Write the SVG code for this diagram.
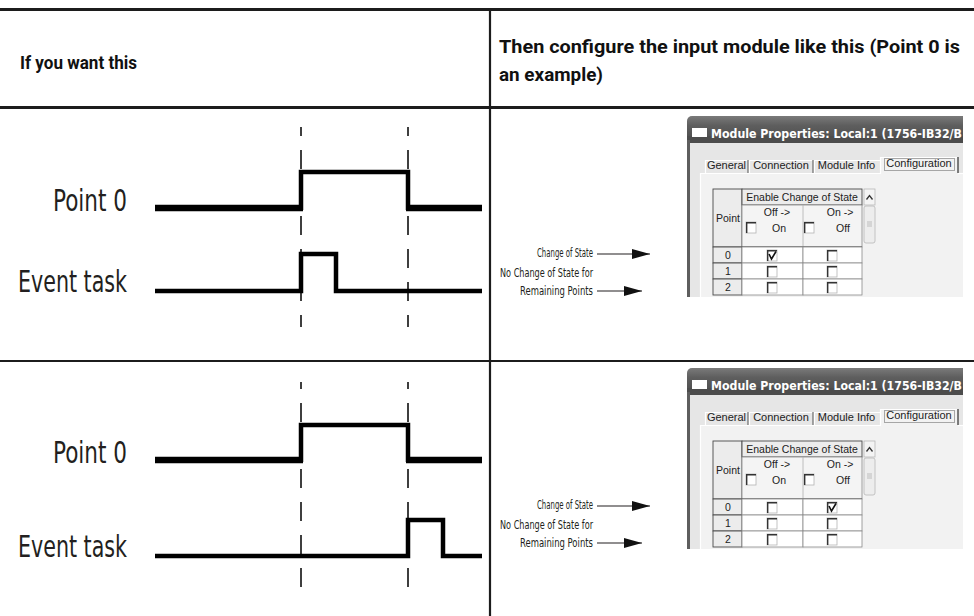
<svg xmlns="http://www.w3.org/2000/svg" width="974" height="616" viewBox="0 0 974 616">
  <style>
    .rule { stroke: #1c1c1c; fill: none; }
    .hdr { font-family: Roboto, "Liberation Sans", sans-serif; font-weight: 700; font-size: 19px; fill: #111; }
    .sig { font-family: "Liberation Sans Narrow", "DejaVu Sans Condensed", "Liberation Sans", sans-serif; font-size: 30px; fill: #231f20; }
    .wave { stroke: #000; fill: none; stroke-linejoin: miter; stroke-linecap: butt; }
    .dash { stroke: #000; stroke-width: 1.5; stroke-dasharray: 19 14; fill: none; }
    .note { font-family: "Liberation Sans Narrow", "DejaVu Sans Condensed", "Liberation Sans", sans-serif; font-size: 12px; fill: #231f20; }
    .ptr { stroke: #231f20; stroke-width: 1.2; fill: none; marker-end: url(#tip); }
    .ui { font-family: "Liberation Sans", Arial, sans-serif; font-size: 11px; fill: #222; }
    .uis { font-family: "Liberation Sans", Arial, sans-serif; font-size: 10.5px; fill: #222; }
    .cell { fill: #fff; stroke: #8a8a8a; stroke-width: 0.8; }
    .btn { fill: #ececec; stroke: #4a4a4a; stroke-width: 0.9; }
    .cb { fill: #fff; stroke: #b5b5b5; stroke-width: 0.8; }
    .cbe { stroke: #333; stroke-width: 1.4; fill: none; }
  </style>
  <defs>
    <marker id="tip" markerUnits="userSpaceOnUse" markerWidth="18" markerHeight="10" refX="18" refY="5" orient="auto">
      <path d="M0,0 L18,5 L0,10 Z" fill="#111"/>
    </marker>
    <linearGradient id="titleGrad" x1="0" y1="0" x2="0" y2="1">
      <stop offset="0" stop-color="#7a7a7a"/>
      <stop offset="0.35" stop-color="#5e5e5e"/>
      <stop offset="1" stop-color="#4a4a4a"/>
    </linearGradient>
    <clipPath id="winClip" clipPathUnits="userSpaceOnUse">
      <rect x="687" y="116" width="276" height="181"/>
    </clipPath>
    <!-- sunken check box -->
    <g id="box">
      <rect class="cb" x="0" y="0" width="10" height="11"/>
      <polyline class="cbe" points="0.7,11 0.7,0.7 10,0.7"/>
    </g>
    <!-- Module Properties dialog (check marks added per instance) -->
    <g id="dialog">
      <g clip-path="url(#winClip)">
        <rect x="687" y="116" width="300" height="200" rx="5" fill="#e6e6e6"/>
        <rect x="687" y="116" width="300" height="27" rx="5" fill="url(#titleGrad)"/>
        <rect x="687" y="136" width="300" height="7" fill="#4c4c4c"/>
        <rect x="687" y="140" width="3" height="170" fill="#5e5e5e"/>
        <rect x="692" y="128" width="15" height="9" fill="#fff"/>
        <text x="711" y="138" textLength="251" lengthAdjust="spacingAndGlyphs" style="font-family:'DejaVu Sans',sans-serif;font-weight:700;font-size:13px;fill:#fff">Module Properties: Local:1 (1756-IB32/B</text>
        <!-- tab panel -->
        <rect x="700" y="173" width="290" height="140" fill="#f2f2f2"/>
        <line x1="700" y1="173.5" x2="880" y2="173.5" stroke="#fff" stroke-width="1.2"/>
        <line x1="958" y1="173.5" x2="990" y2="173.5" stroke="#fff" stroke-width="1.2"/>
        <line x1="700.5" y1="173" x2="700.5" y2="310" stroke="#fff" stroke-width="1.2"/>
        <!-- tabs -->
        <rect x="880" y="157" width="78" height="17" fill="#f2f2f2"/>
        <polyline points="705.5,173 705.5,160.5 748,160.5" stroke="#fff" stroke-width="1.2" fill="none"/>
        <line x1="748" y1="160" x2="748" y2="173" stroke="#6a6a6a" stroke-width="1.2"/>
        <polyline points="749.5,173 749.5,160.5 813,160.5" stroke="#fff" stroke-width="1.2" fill="none"/>
        <line x1="813" y1="160" x2="813" y2="173" stroke="#6a6a6a" stroke-width="1.2"/>
        <polyline points="814.5,173 814.5,160.5 880,160.5" stroke="#fff" stroke-width="1.2" fill="none"/>
        <polyline points="880.5,174 880.5,157.5 957,157.5" stroke="#fff" stroke-width="1.2" fill="none"/>
        <line x1="958" y1="157" x2="958" y2="173" stroke="#4a4a4a" stroke-width="1.4"/>
        <text class="ui" x="726.5" y="169" text-anchor="middle">General</text>
        <text class="ui" x="781" y="169" text-anchor="middle">Connection</text>
        <text class="ui" x="846.5" y="169" text-anchor="middle">Module Info</text>
        <text class="ui" x="919" y="167" text-anchor="middle">Configuration</text>
        <rect x="884.5" y="158.5" width="70" height="12" fill="none" stroke="#333" stroke-width="0.8" stroke-dasharray="1 1"/>
        <!-- grid headers -->
        <rect class="btn" x="713" y="189" width="29" height="58"/>
        <text class="uis" x="716" y="222">Point</text>
        <rect class="btn" x="742" y="189" width="120" height="16"/>
        <text class="uis" x="802" y="201" text-anchor="middle">Enable Change of State</text>
        <rect x="742" y="205" width="120" height="42" fill="#f4f4f4" stroke="#8a8a8a" stroke-width="0.8"/>
        <line x1="803" y1="205" x2="803" y2="247" stroke="#b0b0b0" stroke-width="0.8"/>
        <line x1="742" y1="247" x2="862" y2="247" stroke="#4a4a4a" stroke-width="1"/>
        <use href="#box" x="746" y="222"/>
        <use href="#box" x="804" y="222"/>
        <text class="uis" x="777" y="216" text-anchor="middle">Off -&gt;</text>
        <text class="uis" x="779" y="232" text-anchor="middle">On</text>
        <text class="uis" x="840" y="216" text-anchor="middle">On -&gt;</text>
        <text class="uis" x="843" y="232" text-anchor="middle">Off</text>
        <!-- scroll bar -->
        <rect x="864" y="189" width="11" height="16" fill="#f4f4f4" stroke="#b8b8b8" stroke-width="0.8"/>
        <polyline points="866.5,199.5 869.5,195.5 872.5,199.5" stroke="#333" stroke-width="1.3" fill="none"/>
        <rect x="864" y="206" width="11" height="37" rx="2" fill="#ededed" stroke="#b8b8b8" stroke-width="0.8"/>
        <line x1="867" y1="222" x2="872" y2="222" stroke="#aaa" stroke-width="0.7"/>
        <line x1="867" y1="224" x2="872" y2="224" stroke="#aaa" stroke-width="0.7"/>
        <line x1="867" y1="226" x2="872" y2="226" stroke="#aaa" stroke-width="0.7"/>
        <!-- rows 0..2 -->
        <rect class="btn" x="713" y="247" width="29" height="16"/>
        <rect class="btn" x="713" y="263" width="29" height="16"/>
        <rect class="btn" x="713" y="279" width="29" height="16"/>
        <text class="uis" x="728" y="259" text-anchor="middle">0</text>
        <text class="uis" x="728" y="275" text-anchor="middle">1</text>
        <text class="uis" x="728" y="291" text-anchor="middle">2</text>
        <rect class="cell" x="742" y="247" width="61" height="16"/>
        <rect class="cell" x="803" y="247" width="59" height="16"/>
        <rect class="cell" x="742" y="263" width="61" height="16"/>
        <rect class="cell" x="803" y="263" width="59" height="16"/>
        <rect class="cell" x="742" y="279" width="61" height="16"/>
        <rect class="cell" x="803" y="279" width="59" height="16"/>
        <use href="#box" x="767" y="250"/>
        <use href="#box" x="827" y="250"/>
        <use href="#box" x="767" y="266"/>
        <use href="#box" x="827" y="266"/>
        <use href="#box" x="767" y="282"/>
        <use href="#box" x="827" y="282"/>
      </g>
    </g>
  </defs>

  <!-- table rules -->
  <g id="table-rules">
    <line class="rule" x1="0" y1="9.5" x2="974" y2="9.5" stroke-width="3"/>
    <line class="rule" x1="0" y1="107.5" x2="974" y2="107.5" stroke-width="3"/>
    <line class="rule" x1="0" y1="361" x2="974" y2="361" stroke-width="2.2"/>
    <line class="rule" x1="490" y1="9" x2="490" y2="616" stroke-width="2.2"/>
  </g>

  <!-- header row -->
  <g id="header">
    <text class="hdr" x="20" y="69" textLength="117" lengthAdjust="spacingAndGlyphs">If you want this</text>
    <text class="hdr" x="499" y="53" textLength="461" lengthAdjust="spacingAndGlyphs">Then configure the input module like this (Point 0 is</text>
    <text class="hdr" x="499" y="81" textLength="104" lengthAdjust="spacingAndGlyphs">an example)</text>
  </g>

  <!-- row 1: event on rising edge -->
  <g id="timing-rising">
    <line class="dash" x1="301" y1="127" x2="301" y2="327" stroke-dashoffset="10"/>
    <line class="dash" x1="408" y1="127" x2="408" y2="327" stroke-dashoffset="10"/>
    <text class="sig" x="127" y="211" text-anchor="end" textLength="74" lengthAdjust="spacingAndGlyphs">Point 0</text>
    <text class="sig" x="127" y="292" text-anchor="end" textLength="109" lengthAdjust="spacingAndGlyphs">Event task</text>
    <line class="wave" x1="155" y1="208" x2="303" y2="208" stroke-width="6.5"/>
    <polyline class="wave" points="301,210 301,172 408,172 408,210" stroke-width="4.5"/>
    <line class="wave" x1="406" y1="208" x2="482" y2="208" stroke-width="6.5"/>
    <polyline class="wave" points="155,291 301,291 301,254 336,254 336,291 482,291" stroke-width="4.5"/>
  </g>
  <g id="config-rising">
    <use href="#dialog"/>
    <polyline points="769,254 771.5,259 776,251.5" stroke="#111" stroke-width="1.6" fill="none"/>
  </g>

  <!-- row 2: event on falling edge -->
  <g id="timing-falling">
    <line class="dash" x1="301" y1="382" x2="301" y2="587" stroke-dashoffset="12"/>
    <line class="dash" x1="408" y1="382" x2="408" y2="587" stroke-dashoffset="12"/>
    <text class="sig" x="127" y="463" text-anchor="end" textLength="74" lengthAdjust="spacingAndGlyphs">Point 0</text>
    <text class="sig" x="127" y="557" text-anchor="end" textLength="109" lengthAdjust="spacingAndGlyphs">Event task</text>
    <line class="wave" x1="155" y1="460" x2="303" y2="460" stroke-width="6.5"/>
    <polyline class="wave" points="301,462 301,425 408,425 408,462" stroke-width="4.5"/>
    <line class="wave" x1="406" y1="460" x2="482" y2="460" stroke-width="6.5"/>
    <polyline class="wave" points="155,556 408,556 408,520 443,520 443,556 482,556" stroke-width="4.5"/>
  </g>
  <g id="config-falling">
    <use href="#dialog" y="252"/>
    <polyline points="829,506 831.5,511 836,503.5" stroke="#111" stroke-width="1.6" fill="none"/>
  </g>

  <!-- callout pointers -->
  <g id="connectors">
    <line class="ptr" x1="597" y1="254" x2="650" y2="254"/>
    <line class="ptr" x1="597" y1="291" x2="642" y2="291"/>
    <line class="ptr" x1="597" y1="506" x2="650" y2="506"/>
    <line class="ptr" x1="597" y1="543" x2="642" y2="543"/>
  </g>
  <g id="callouts">
    <text class="note" x="593" y="257" text-anchor="end" textLength="56" lengthAdjust="spacingAndGlyphs">Change of State</text>
    <text class="note" x="593" y="277" text-anchor="end" textLength="93" lengthAdjust="spacingAndGlyphs">No Change of State for</text>
    <text class="note" x="593" y="295" text-anchor="end" textLength="73" lengthAdjust="spacingAndGlyphs">Remaining Points</text>
    <text class="note" x="593" y="509" text-anchor="end" textLength="56" lengthAdjust="spacingAndGlyphs">Change of State</text>
    <text class="note" x="593" y="529" text-anchor="end" textLength="93" lengthAdjust="spacingAndGlyphs">No Change of State for</text>
    <text class="note" x="593" y="547" text-anchor="end" textLength="73" lengthAdjust="spacingAndGlyphs">Remaining Points</text>
  </g>
</svg>
